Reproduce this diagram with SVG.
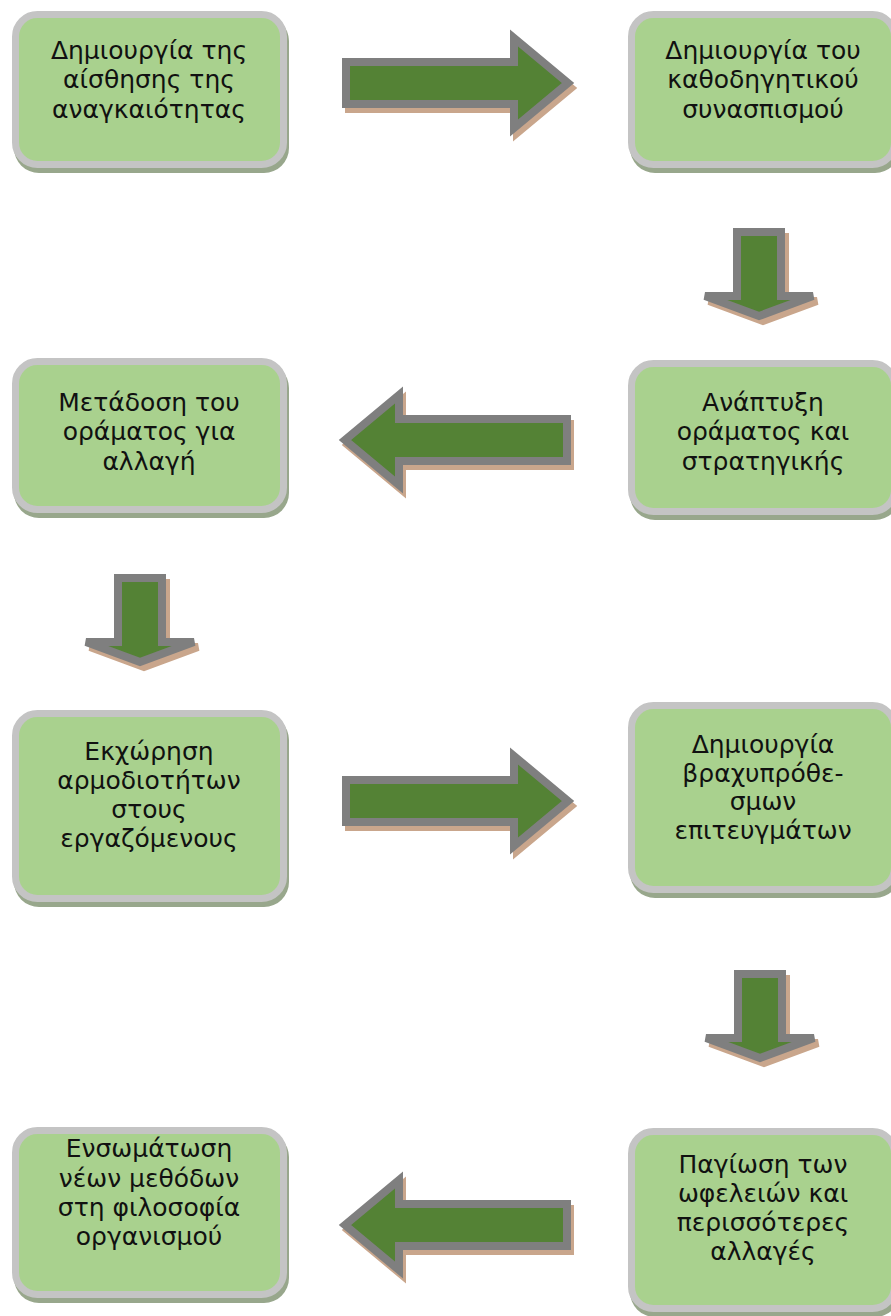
<svg xmlns="http://www.w3.org/2000/svg" width="891" height="1316" viewBox="0 0 891 1316">
<defs>
<style>
.sh{fill:#98a78c}
.bx{fill:#a9d18e;stroke:#c4c4c4;stroke-width:7}
.t{font-family:"DejaVu Sans",sans-serif;font-size:25px;fill:#111;text-anchor:middle}
.ar{fill:#548235;stroke:#7f7f7f;stroke-width:8;stroke-linejoin:miter}
.as{fill:#c9a68c;stroke:#c9a68c;stroke-width:8}
</style>
<path id="ra" d="M346,62 L514,62 L514,38 L568,83 L514,128 L514,104 L346,104 Z"/>
<path id="da" d="M737,232 L781,232 L781,296 L813,296 L759,316 L705,296 L737,296 Z"/>
</defs>
<rect width="891" height="1316" fill="#fff"/>

<g id="connectors">
  <g id="arrow-1-2">
    <use href="#ra" class="as" transform="translate(3,5)"/>
    <use href="#ra" class="ar"/>
  </g>
  <g id="arrow-2-3">
    <use href="#da" class="as" transform="translate(4,5)"/>
    <use href="#da" class="ar"/>
  </g>
  <g id="arrow-3-4">
    <use href="#ra" class="as" transform="translate(3,5) translate(913,357) scale(-1,1)"/>
    <use href="#ra" class="ar" transform="translate(913,357) scale(-1,1)"/>
  </g>
  <g id="arrow-4-5">
    <use href="#da" class="as" transform="translate(4,5) translate(-619,346)"/>
    <use href="#da" class="ar" transform="translate(-619,346)"/>
  </g>
  <g id="arrow-5-6">
    <use href="#ra" class="as" transform="translate(3,5) translate(0,718)"/>
    <use href="#ra" class="ar" transform="translate(0,718)"/>
  </g>
  <g id="arrow-6-7">
    <use href="#da" class="as" transform="translate(4,5) translate(1,742)"/>
    <use href="#da" class="ar" transform="translate(1,742)"/>
  </g>
  <g id="arrow-7-8">
    <use href="#ra" class="as" transform="translate(3,5) translate(913,1142) scale(-1,1)"/>
    <use href="#ra" class="ar" transform="translate(913,1142) scale(-1,1)"/>
  </g>
</g>

<g id="node1">
  <rect class="sh" x="14" y="16" width="275" height="157" rx="25"/>
  <rect class="bx" x="15.5" y="14.5" width="268" height="150" rx="22"/>
  <text class="t" x="149" y="59">Δημιουργία της</text>
  <text class="t" x="149" y="88">αίσθησης της</text>
  <text class="t" x="149" y="118">αναγκαιότητας</text>
</g>
<g id="node2">
  <rect class="sh" x="630" y="16" width="270" height="157" rx="25"/>
  <rect class="bx" x="631.5" y="14.5" width="263" height="150" rx="22"/>
  <text class="t" x="763" y="59">Δημιουργία του</text>
  <text class="t" x="763" y="88">καθοδηγητικού</text>
  <text class="t" x="763" y="118">συνασπισμού</text>
</g>
<g id="node3">
  <rect class="sh" x="630" y="365" width="270" height="155" rx="25"/>
  <rect class="bx" x="631.5" y="363.5" width="263" height="148" rx="22"/>
  <text class="t" x="763" y="411">Ανάπτυξη</text>
  <text class="t" x="763" y="440">οράματος και</text>
  <text class="t" x="763" y="470">στρατηγικής</text>
</g>
<g id="node4">
  <rect class="sh" x="14" y="363" width="275" height="155" rx="25"/>
  <rect class="bx" x="15.5" y="361.5" width="268" height="148" rx="22"/>
  <text class="t" x="149" y="411">Μετάδοση του</text>
  <text class="t" x="149" y="440">οράματος για</text>
  <text class="t" x="149" y="470">αλλαγή</text>
</g>
<g id="node5">
  <rect class="sh" x="14" y="715" width="275" height="192" rx="25"/>
  <rect class="bx" x="15.5" y="713.5" width="268" height="185" rx="22"/>
  <text class="t" x="149" y="760">Εκχώρηση</text>
  <text class="t" x="149" y="789">αρμοδιοτήτων</text>
  <text class="t" x="149" y="818">στους</text>
  <text class="t" x="149" y="847">εργαζόμενους</text>
</g>
<g id="node6">
  <rect class="sh" x="630" y="707" width="270" height="191" rx="25"/>
  <rect class="bx" x="631.5" y="705.5" width="263" height="184" rx="22"/>
  <text class="t" x="763" y="753">Δημιουργία</text>
  <text class="t" x="763" y="782">βραχυπρόθε-</text>
  <text class="t" x="763" y="810">σμων</text>
  <text class="t" x="763" y="839">επιτευγμάτων</text>
</g>
<g id="node7">
  <rect class="sh" x="630" y="1133" width="270" height="184" rx="25"/>
  <rect class="bx" x="631.5" y="1131.5" width="263" height="177" rx="22"/>
  <text class="t" x="763" y="1173">Παγίωση των</text>
  <text class="t" x="763" y="1202">ωφελειών και</text>
  <text class="t" x="763" y="1231">περισσότερες</text>
  <text class="t" x="763" y="1260">αλλαγές</text>
</g>
<g id="node8">
  <rect class="sh" x="14" y="1132" width="275" height="171" rx="25"/>
  <rect class="bx" x="15.5" y="1130.5" width="268" height="164" rx="22"/>
  <text class="t" x="149" y="1157">Ενσωμάτωση</text>
  <text class="t" x="149" y="1187">νέων μεθόδων</text>
  <text class="t" x="149" y="1216">στη φιλοσοφία</text>
  <text class="t" x="149" y="1245">οργανισμού</text>
</g>
</svg>
